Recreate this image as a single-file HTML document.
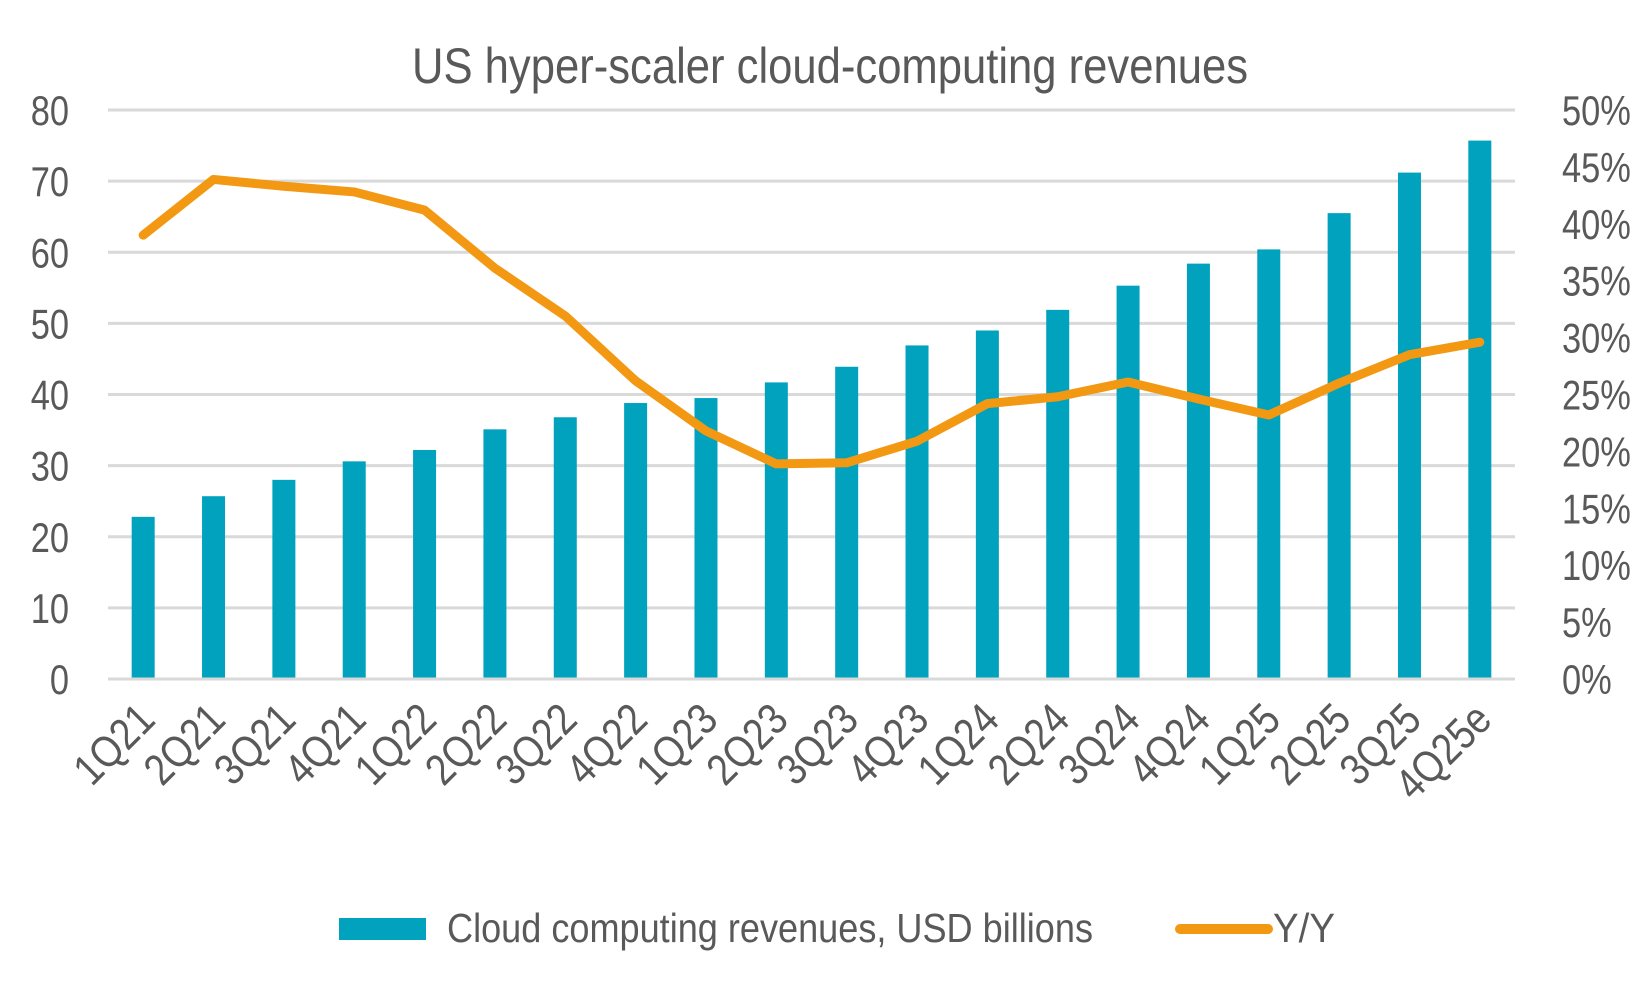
<!DOCTYPE html>
<html><head><meta charset="utf-8"><style>
html,body{margin:0;padding:0;background:#fff;}
svg{display:block;font-family:"Liberation Sans Narrow","Liberation Sans",sans-serif;}
</style></head><body>
<svg id="chart" width="1650" height="990" viewBox="0 0 1650 990" xmlns="http://www.w3.org/2000/svg">
<text x="830" y="83" text-anchor="middle" font-size="50" fill="#595959" textLength="836" lengthAdjust="spacingAndGlyphs">US hyper-scaler cloud-computing revenues</text>
<g id="grid"></g><g id="bars"></g><g id="line"></g><g id="axes"></g>
<g>
<rect x="339" y="918" width="87" height="22" fill="#00A2BE"/>
<text x="447" y="942" font-size="41" fill="#595959" textLength="646" lengthAdjust="spacingAndGlyphs">Cloud computing revenues, USD billions</text>
<line x1="1180" y1="929" x2="1268" y2="929" stroke="#F39813" stroke-width="10" stroke-linecap="round"/>
<text x="1273" y="942" font-size="41" fill="#595959" textLength="62" lengthAdjust="spacingAndGlyphs">Y/Y</text>
</g>
</svg>
<script>
const categories=["1Q21","2Q21","3Q21","4Q21","1Q22","2Q22","3Q22","4Q22","1Q23","2Q23","3Q23","4Q23","1Q24","2Q24","3Q24","4Q24","1Q25","2Q25","3Q25","4Q25e"];
const revenues=[22.8,25.7,28.0,30.6,32.2,35.1,36.8,38.8,39.5,41.7,43.9,46.9,49.0,51.9,55.3,58.4,60.4,65.5,71.2,75.7];
const yoy=[39.0,43.9,43.3,42.8,41.2,36.1,31.9,26.2,21.8,18.9,19.0,20.9,24.2,24.8,26.1,24.6,23.2,26.0,28.5,29.6];
const leftTicks=[0,10,20,30,40,50,60,70,80];
const rightTicks=[0,5,10,15,20,25,30,35,40,45,50];
const NS="http://www.w3.org/2000/svg";
const X0=108,X1=1515,Y0=679,Y1=110;
const band=(X1-X0)/categories.length;
const xC=i=>X0+band*(i+0.5);
const yL=v=>Y0-(v/80)*(Y0-Y1);
const yR=v=>Y0-(v/50)*(Y0-Y1);
function mk(tag,attrs,parent,txt){const e=document.createElementNS(NS,tag);for(const k in attrs)e.setAttribute(k,attrs[k]);if(txt!==undefined)e.textContent=txt;document.getElementById(parent).appendChild(e);return e;}
leftTicks.forEach(t=>{
  const g=mk("line",{x1:X0,x2:X1,y1:yL(t),y2:yL(t),stroke:"#d9d9d9","stroke-width":3},"grid");
  
  
  const l=mk("text",{x:0,y:0,"text-anchor":"end","font-size":42,fill:"#595959",transform:`translate(69 ${yL(t)+15}) scale(0.82 1)`},"axes",String(t));
  
  
});
rightTicks.forEach(t=>{
  const l=mk("text",{x:0,y:0,"text-anchor":"start","font-size":42,fill:"#595959",transform:`translate(1562 ${yR(t)+15}) scale(0.82 1)`},"axes",t+"%");
  
  
});
revenues.forEach((v,i)=>{
  const b=mk("rect",{x:xC(i)-11.5,y:yL(v),width:23,height:Y0-yL(v)-1.5,fill:"#00A2BE"},"bars");
  
  
});
categories.forEach((c,i)=>{
  const x=xC(i)+14,y=722;
  const l=mk("text",{x:0,y:0,"text-anchor":"end","font-size":44,fill:"#595959",transform:`translate(${x} ${y}) rotate(-45) scale(0.86 1)`},"axes",c);
  
  
});
const pts=yoy.map((v,i)=>xC(i)+","+yR(v)).join(" ");
const pl=mk("polyline",{points:pts,fill:"none",stroke:"#F39813","stroke-width":9,"stroke-linejoin":"round","stroke-linecap":"round"},"line");


</script>
</body></html>
